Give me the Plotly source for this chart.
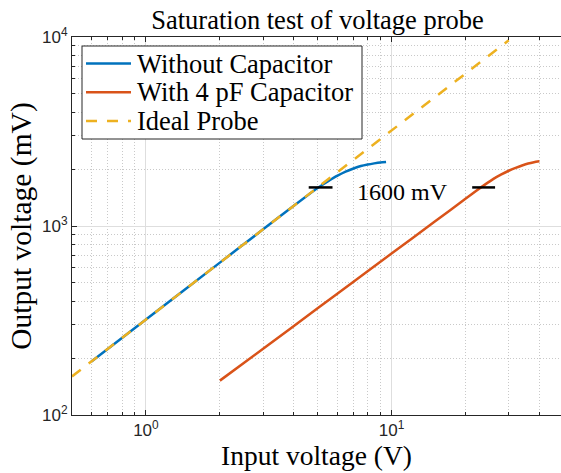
import numpy as np
import plotly.graph_objects as go

# ---- data ----
ideal_x = [0.5, 30]
ideal_y = [160, 9600]

blue_x = [0.6, 1, 2, 3, 4, 5, 5.5, 6, 6.5, 7, 7.5, 8, 8.5, 9, 9.5]
blue_y = [192, 320, 640, 960, 1280, 1590, 1720, 1840, 1940, 2015, 2075, 2115, 2145, 2168, 2180]

orange_x = [2, 3, 5, 7, 10, 15, 20, 22, 24, 26, 28, 30, 32, 34, 36, 38, 40]
orange_y = [152, 224, 367, 507, 715, 1056, 1393, 1527, 1655, 1775, 1875, 1960, 2030, 2090, 2140, 2175, 2200]

mark_y = 1600
mark1_x = [4.6, 5.75]
mark2_x = [21.3, 26.4]
annot_text = "1600 mV"
annot_x = 11.1
annot_y = 1520

series_names = ["Without Capacitor", "With 4 pF Capacitor", "Ideal Probe"]
series_colors = ["#0072BD", "#D95319", "#EDB120"]
series_dash = ["solid", "solid", "11px,10px"]

x_tickvals = [1, 10]
x_ticktext = ["10<sup>0</sup>", "10<sup>1</sup>"]
y_tickvals = [100, 1000, 10000]
y_ticktext = ["10<sup>2</sup>", "10<sup>3</sup>", "10<sup>4</sup>"]
x_minor = [0.6, 0.7, 0.8, 0.9] + list(range(2, 10)) + [20, 30, 40]
y_minor = list(range(200, 1000, 100)) + list(range(2000, 10000, 1000))

title = "Saturation test of voltage probe"
xlabel = "Input voltage (V)"
ylabel = "Output voltage (mV)"

SERIF = "Liberation Serif, Times New Roman, serif"
SANS = "Liberation Sans, Arial, sans-serif"

W, H = 561, 473
ML, MR, MT, MB = 72, 0, 37, 58
PW, PH = W - ML - MR, H - MT - MB


def px_x(p):
    return (p - ML) / PW


def px_y(p):
    return (H - MB - p) / PH


fig = go.Figure()
fig.add_trace(go.Scatter(x=blue_x, y=blue_y, mode="lines", name=series_names[0],
                         line=dict(color=series_colors[0], width=2.5, shape="spline", smoothing=0.6)))
fig.add_trace(go.Scatter(x=orange_x, y=orange_y, mode="lines", name=series_names[1],
                         line=dict(color=series_colors[1], width=2.5, shape="spline", smoothing=0.6)))
fig.add_trace(go.Scatter(x=ideal_x, y=ideal_y, mode="lines", name=series_names[2],
                         line=dict(color=series_colors[2], width=2.5, dash=series_dash[2])))
fig.add_trace(go.Scatter(x=mark1_x, y=[mark_y, mark_y], mode="lines", showlegend=False,
                         line=dict(color="black", width=2.5)))
fig.add_trace(go.Scatter(x=mark2_x, y=[mark_y, mark_y], mode="lines", showlegend=False,
                         line=dict(color="black", width=2.5)))

fig.add_annotation(x=np.log10(annot_x), y=np.log10(annot_y), text=annot_text, showarrow=False,
                   font=dict(family=SERIF, size=24, color="black"))

# legend box drawn as shapes + text annotations (MATLAB-like layout)
fig.add_shape(type="rect", xref="paper", yref="paper",
              x0=px_x(82), x1=px_x(362), y0=px_y(139), y1=px_y(46),
              line=dict(color="#262626", width=1), fillcolor="white", layer="above")
row_y = [63.5, 92.3, 121]
for name, col, dash, ry in zip(series_names, series_colors, series_dash, row_y):
    fig.add_shape(type="line", xref="paper", yref="paper",
                  x0=px_x(86), x1=px_x(131), y0=px_y(ry), y1=px_y(ry),
                  line=dict(color=col, width=2.5, dash=dash), layer="above")
    fig.add_annotation(xref="paper", yref="paper", x=px_x(134.5), y=px_y(ry),
                       xanchor="left", yanchor="middle", text=name, showarrow=False,
                       font=dict(family=SERIF, size=26.5, color="black"))

axis_common = dict(
    type="log", showline=True, linecolor="#262626", linewidth=1,
    ticks="inside", ticklen=5, tickcolor="#262626",
    tickfont=dict(family=SANS, size=17, color="#262626"),
    showgrid=True, gridcolor="#dedede", gridwidth=1, zeroline=False,
)

minor_common = dict(tickmode="array", ticks="inside", ticklen=3, tickcolor="#262626",
                    showgrid=True, gridcolor="#c9c9c9", griddash="1px,2px", gridwidth=1)

fig.update_xaxes(**axis_common, range=[np.log10(0.5), 1.690], mirror="ticks",
                 tickmode="array", tickvals=x_tickvals, ticktext=x_ticktext,
                 minor=dict(tickvals=x_minor, **minor_common),
                 title=dict(text=xlabel, font=dict(family=SERIF, size=27.5, color="black"), standoff=0))
fig.update_yaxes(**axis_common, range=[2, 4], mirror=False,
                 tickmode="array", tickvals=y_tickvals, ticktext=y_ticktext,
                 minor=dict(tickvals=y_minor, **minor_common),
                 title=dict(text=ylabel, font=dict(family=SERIF, size=29.5, color="black"), standoff=1))

fig.update_layout(
    width=W, height=H,
    margin=dict(l=ML, r=MR, t=MT, b=MB),
    paper_bgcolor="white", plot_bgcolor="white",
    title=dict(text=title, x=0.566, xanchor="center", y=0.958, yanchor="middle",
               font=dict(family=SERIF, size=26.5, color="black")),
    showlegend=False,
)

fig.write_html("out.html")
